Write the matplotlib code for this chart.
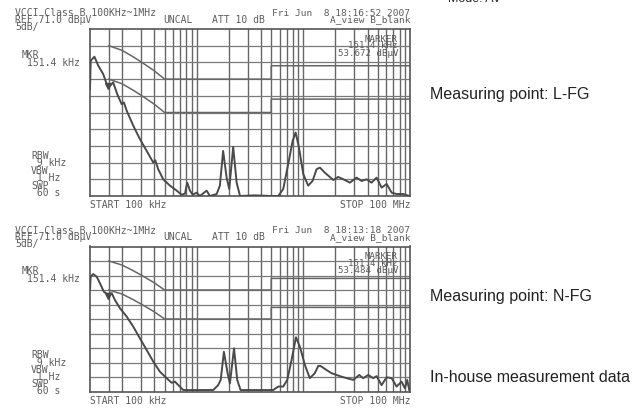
import matplotlib
matplotlib.use("Agg")
import matplotlib.pyplot as plt

W, H = 632, 412

# vertical grid (MHz) and horizontal grid (dBuV), 5 dB/div from REF 71
grid_freqs = [0.15, 0.2, 0.3, 0.4, 0.5, 0.6, 0.7, 0.8, 0.9, 1,
              2, 3, 4, 5, 6, 7, 8, 9, 10, 20, 30, 40, 50, 60, 70, 80, 90]
grid_levels = [26, 31, 36, 41, 46, 51, 56, 61, 66]

# VCCI class B limit lines as drawn on the screen
qp_freq = [0.15, 0.2, 0.25, 0.3, 0.4, 0.5, 5, 5, 100]
qp_level = [66, 64.6, 62.8, 61.2, 58.5, 56, 56, 60, 60]
av_freq = [0.15, 0.2, 0.25, 0.3, 0.4, 0.5, 5, 5, 100]
av_level = [56, 54.6, 52.8, 51.2, 48.5, 46, 46, 50, 50]

# measured traces (MHz, dBuV)
lfg_freq = [0.100, 0.1015, 0.110, 0.1196, 0.133, 0.1434, 0.154, 0.165, 0.180,
            0.198, 0.208, 0.221, 0.255, 0.294, 0.340, 0.392, 0.409, 0.436,
            0.486, 0.562, 0.650, 0.723, 0.777, 0.816, 0.865, 0.917, 1.0,
            1.07, 1.24, 1.33, 1.54, 1.65, 1.77, 1.91, 2.02, 2.20, 2.37, 2.55,
            3.5, 5.0, 5.82, 6.48, 7.22, 7.94, 8.47, 9.10, 9.98, 11.1, 12.2,
            13.3, 14.3, 15.9, 17.7, 19.1, 21.2, 23.7, 27.3, 31.6, 35.2, 39.2,
            43.6, 48.6, 54.2, 60.4, 67.3, 74.8, 86.3, 98.4]
lfg_level = [53.0, 61.5, 62.7, 60.0, 57.5, 54.5, 54.0, 55.0, 51.5,
             48.5, 49.0, 46.5, 42.0, 38.0, 34.5, 31.0, 31.7, 29.0,
             26.0, 24.1, 22.6, 21.4, 21.7, 25.0, 22.6, 21.4, 22.0,
             21.0, 22.6, 21.0, 21.6, 24.1, 34.5, 26.5, 23.1, 35.7, 25.0, 21.0,
             21.2, 21.0, 21.0, 23.1, 30.6, 37.5, 40.0, 35.5, 27.6, 24.1, 25.5,
             29.0, 29.5, 28.0, 26.7, 25.8, 26.7, 26.0, 25.0, 26.5, 25.5, 26.0,
             25.0, 26.5, 23.5, 24.6, 22.0, 21.6, 21.6, 21.0]

nfg_freq = [0.100, 0.1015, 0.107, 0.1156, 0.124, 0.135, 0.145, 0.160, 0.171,
            0.191, 0.221, 0.255, 0.294, 0.340, 0.392, 0.453, 0.523, 0.583,
            0.626, 0.673, 0.749, 1.43, 1.59, 1.68, 1.80, 1.95, 2.05, 2.24,
            2.40, 2.58, 5.22, 5.82, 6.48, 7.07, 7.76, 8.53, 9.29, 10.35, 11.5,
            12.8, 13.8, 14.5, 16.5, 18.4, 20.5, 22.9, 25.5, 29.4, 33.4, 36.4,
            40.6, 45.2, 48.6, 54.2, 60.4, 67.3, 74.8, 83.4, 89.5, 94.2, 98.4]
nfg_level = [56.0, 60.6, 61.5, 60.6, 58.3, 55.4, 54.6, 54.9, 52.6,
             49.7, 46.8, 43.3, 39.3, 35.3, 31.3, 27.8, 25.6, 24.0,
             24.4, 23.2, 21.5, 21.5, 23.2, 25.0, 34.7, 27.3, 23.8, 35.9,
             25.0, 21.5, 21.5, 22.7, 22.7, 25.0, 31.9, 39.7, 36.4, 30.1, 25.6,
             27.3, 29.8, 29.8, 28.4, 27.3, 26.7, 26.1, 25.6, 25.0, 26.7, 25.6,
             26.7, 25.6, 26.3, 23.2, 25.9, 25.6, 22.7, 24.4, 22.1, 25.0, 21.5]

dates = ["Fri Jun  8 18:16:52 2007", "Fri Jun  8 18:13:18 2007"]
marker_levels = ["53.672 dB\u00b5V", "53.484 dB\u00b5V"]
labels = ["Measuring point: L-FG", "Measuring point: N-FG"]

fig = plt.figure(figsize=(W / 100, H / 100), dpi=100)
fig.patch.set_facecolor("white")

ink = "#4a4a4a"
txt = "#5c5c5c"
mono = "DejaVu Sans Mono"


def put(x, y, s, size=7, ha="left"):
    fig.text(x / W, 1 - y / H, s, fontsize=size, ha=ha, va="center",
             family=mono, color=txt)


# (top, bottom) of each screen in pixels
boxes = [(29, 196), (246.5, 391.5)]
traces = [(lfg_freq, lfg_level), (nfg_freq, nfg_level)]

for i, (top, bot) in enumerate(boxes):
    ax = fig.add_axes([90 / W, 1 - bot / H, 320 / W, (bot - top) / H])
    ax.set_xscale("log")
    ax.set_xlim(0.1, 100)
    ax.set_ylim(21, 71)
    ax.set_xticks([])
    ax.set_yticks([])
    ax.minorticks_off()
    for sp in ax.spines.values():
        sp.set_color("#555555")
        sp.set_linewidth(1.2)
    for f in grid_freqs:
        ax.axvline(f, color="#666666", lw=1.0, zorder=1)
    for lv in grid_levels:
        ax.axhline(lv, color="#7a7a7a", lw=0.9, zorder=1)

    ax.plot(qp_freq, qp_level, color="#666666", lw=1.1, zorder=2)
    ax.plot(av_freq, av_level, color="#666666", lw=1.1, zorder=2)
    fr, lv = traces[i]
    ax.plot(fr, lv, color=ink, lw=1.4, zorder=3, solid_joinstyle="round")
    ax.plot([0.147], [54.0], marker="v", ms=4.5, color=ink, zorder=4)

    # screen annotations
    put(15, top - 16, "VCCI Class B 100KHz~1MHz")
    put(15, top - 9, "REF 71.0 dB\u00b5V")
    put(15, top - 2, "5dB/")
    put(163, top - 9, "UNCAL")
    put(212, top - 9, "ATT 10 dB")
    put(410, top - 16, dates[i], size=6.8, ha="right")
    put(410, top - 9, "A_view B_blank", size=6.8, ha="right")
    put(398, top + 10, "MARKER", size=6.6, ha="right")
    put(398, top + 17, "151.4 kHz", size=6.6, ha="right")
    put(398, top + 24, marker_levels[i], size=6.6, ha="right")

    put(22, top + 26 if i == 0 else top + 24, "MKR")
    put(27, top + 34 if i == 0 else top + 32, "151.4 kHz")
    rbw_y = bot - 40 if i == 0 else bot - 36
    step = 7.4 if i == 0 else 7.2
    for k, s in enumerate(["RBW", " 9 kHz", "VBW", " 1 Hz", "SWP", " 60 s"]):
        put(31, rbw_y + k * step, s)
    put(90, bot + 9, "START 100 kHz")
    put(410, bot + 9, "STOP 100 MHz", ha="right")

    fig.text(430 / W, 1 - (95 if i == 0 else 296) / H, labels[i],
             fontsize=11.5, family="Liberation Sans", color="#222222",
             ha="left", va="center")

fig.text(430 / W, 1 - 378 / H, "In-house measurement data", fontsize=11.5,
         family="Liberation Sans", color="#222222", ha="left", va="center")
fig.text(448 / W, 1 - 2 / H, "Mode: AV", fontsize=9, family="Liberation Sans",
         color="#222222", ha="left", va="baseline")

fig.savefig("out.png", dpi=100)
